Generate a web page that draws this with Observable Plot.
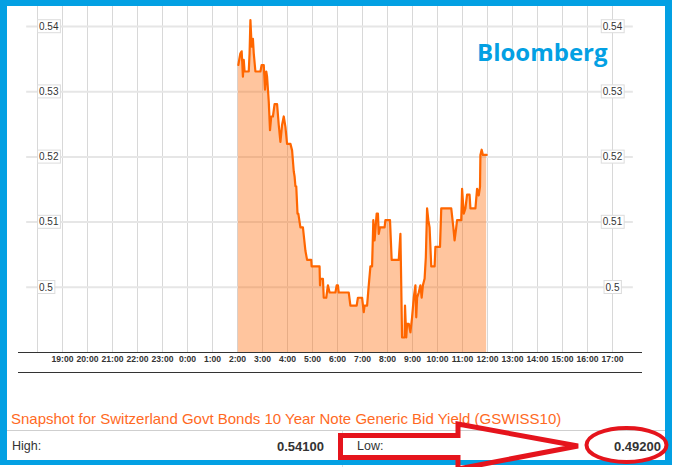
<!DOCTYPE html>
<html>
<head>
<meta charset="utf-8">
<script src="https://cdn.jsdelivr.net/npm/d3@7"></script>
<script src="https://cdn.jsdelivr.net/npm/@observablehq/plot@0.6"></script>
<style>
  html, body { margin: 0; padding: 0; background: #fff; }
  #wrap { position: relative; width: 673px; height: 467px; overflow: hidden; background: #fff; font-family: "Liberation Sans", Arial, sans-serif; }
  #chart { position: absolute; left: 0; top: 0; }
  .abs { position: absolute; white-space: nowrap; line-height: 1; }
  #border { position: absolute; left: 0; top: 0; width: 658px; height: 454px; border-style: solid; border-color: #03a0e3; border-width: 6px 7px 5px 7px; pointer-events: none; }
</style>
</head>
<body>
<div id="wrap">
  <div id="chart"></div>
  <div class="abs" style="left:18px;top:372px;width:624px;height:1px;background:#333;"></div>
  <div class="abs" id="brand" style="left:477px;top:40px;font-family:'Open Sans';font-weight:700;font-size:24px;color:#03a0e3;"></div>
  <div class="abs" id="snap" style="left:11px;top:411px;font-size:15px;color:#ff6a1f;"></div>
  <div class="abs" style="left:7px;top:430px;width:659px;height:1px;background:#cfcfcf;"></div>
  <div class="abs" style="left:342px;top:431px;width:1px;height:40px;background:#dddddd;"></div>
  <div class="abs" id="highLbl" style="left:12px;top:440px;font-size:12.5px;color:#333;"></div>
  <div class="abs" id="highVal" style="right:349px;top:439.5px;font-size:13px;font-weight:bold;color:#333;"></div>
  <div class="abs" id="lowLbl" style="left:357px;top:440px;font-size:12.5px;color:#333;"></div>
  <div class="abs" id="lowVal" style="right:12px;top:439.5px;font-size:13px;font-weight:bold;color:#333;"></div>
  <div id="border"></div>
  <svg class="abs" width="673" height="467" style="left:0;top:0;pointer-events:none;">
    <path d="M340.5,435.5 L458,435.5 L458,424 L578,446 L458,469 L458,457.5 L340.5,457.5 Z" fill="none" stroke="#e5141c" stroke-width="5" stroke-linejoin="miter"/>
    <ellipse cx="626.5" cy="445" rx="40" ry="17" fill="none" stroke="#e5141c" stroke-width="4"/>
  </svg>
</div>
<script>
// ---- data ----
const times = ["2:02","2:05","2:07","2:10","2:13","2:15","2:17","2:27","2:29","2:31","2:34","2:37","2:39","2:43","2:55","2:58","3:03","3:06","3:09","3:11","3:15","3:18","3:21","3:25","3:29","3:35","3:39","3:43","3:47","3:51","3:55","3:59","4:07","4:11","4:15","4:17","4:19","4:21","4:24","4:26","4:31","4:37","4:43","4:47","4:57","4:58","5:17","5:18","5:19","5:25","5:27","5:33","5:37","5:41","5:55","5:58","6:01","6:03","6:27","6:31","6:46","6:49","6:59","7:03","7:05","7:11","7:15","7:19","7:23","7:26","7:29","7:34","7:37","7:39","7:42","7:53","7:55","8:06","8:10","8:27","8:31","8:35","8:41","8:42","8:45","8:47","8:51","8:55","8:59","9:03","9:07","9:09","9:11","9:15","9:19","9:22","9:25","9:29","9:32","9:35","9:38","9:41","9:45","9:53","9:55","10:06","10:09","10:33","10:38","10:41","10:45","10:47","10:57","10:59","11:03","11:07","11:11","11:17","11:19","11:31","11:35","11:39","11:42","11:43","11:46","11:49","11:58"];
const yields = [0.5341,0.5352,0.5359,0.5362,0.5323,0.5349,0.5331,0.5331,0.5359,0.5410,0.5369,0.5381,0.5359,0.5331,0.5331,0.5341,0.5341,0.5303,0.5331,0.5323,0.5285,0.5241,0.5262,0.5262,0.5281,0.5281,0.5249,0.5223,0.5249,0.5262,0.5246,0.5220,0.5220,0.5210,0.5178,0.5170,0.5155,0.5155,0.5113,0.5113,0.5092,0.5092,0.5056,0.5042,0.5042,0.5032,0.5032,0.5003,0.5013,0.5013,0.4984,0.4984,0.5003,0.4992,0.4992,0.5003,0.5003,0.4992,0.4992,0.4972,0.4972,0.4984,0.4984,0.4962,0.4972,0.4972,0.5003,0.5032,0.5032,0.5103,0.5072,0.5113,0.5113,0.5082,0.5092,0.5092,0.5103,0.5103,0.5042,0.5042,0.5082,0.4923,0.4923,0.4972,0.4923,0.4944,0.4944,0.4931,0.4954,0.4984,0.5003,0.4954,0.4984,0.4992,0.5003,0.4984,0.5003,0.5013,0.5046,0.5121,0.5103,0.5092,0.5032,0.5032,0.5062,0.5062,0.5121,0.5121,0.5092,0.5072,0.5092,0.5103,0.5103,0.5151,0.5113,0.5121,0.5142,0.5142,0.5121,0.5121,0.5151,0.5141,0.5154,0.5203,0.5211,0.5203,0.5203];
const hourLabels = ["18:00","19:00","20:00","21:00","22:00","23:00","0:00","1:00","2:00","3:00","4:00","5:00","6:00","7:00","8:00","9:00","10:00","11:00","12:00","13:00","14:00","15:00","16:00","17:00"];
const yTickValues = [0.50, 0.51, 0.52, 0.53, 0.54];
const yTickLabels = ["0.5", "0.51", "0.52", "0.53", "0.54"];
const brandText = "Bloomberg";
const snapshotTitle = "Snapshot for Switzerland Govt Bonds 10 Year Note Generic Bid Yield (GSWISS10)";
const highLabel = "High:", highValue = "0.54100";
const lowLabel = "Low:", lowValue = "0.49200";

// ---- helpers ----
// session starts 18:00 on day 1; hours before 18 fall on day 2
function toDate(str) {
  const [h, m] = str.split(":").map(Number);
  const day = h >= 18 ? 1 : 2;
  return new Date(Date.UTC(2015, 0, day, h, m));
}
const data = times.map((t, i) => ({t: toDate(t), v: yields[i]}));
const hourDates = hourLabels.map(toDate);
const tickDates = hourDates.slice(1);
const yLab = yTickValues.map((v, i) => ({v, label: yTickLabels[i]}));
const firstHour = hourDates[0], lastHour = hourDates[hourDates.length - 1];
const xDomain = [new Date(+firstHour - 45.6 * 60000), new Date(+lastHour + 72 * 60000)];
const gridX1 = new Date(+firstHour - 26 * 60000), gridX2 = new Date(+lastHour + 50 * 60000);
const base = 0.49;

const chart = Plot.plot({
  width: 673,
  height: 380,
  marginLeft: 18,
  marginRight: 31,
  marginTop: 6,
  marginBottom: 28,
  style: {fontFamily: "'Liberation Sans', Arial, sans-serif", background: "transparent", overflow: "visible"},
  x: {type: "utc", domain: xDomain, axis: null},
  y: {domain: [base, 0.54307], axis: null},
  marks: [
    Plot.ruleX(hourDates, {stroke: "#d8d8d8", strokeWidth: 1}),
    Plot.ruleY(yTickValues, {x1: gridX1, x2: gridX2, stroke: "#e6e6e6", strokeWidth: 2}),
    Plot.areaY(data, {x: "t", y1: () => base, y2: "v", fill: "#ff6600", fillOpacity: 0.38}),
    Plot.lineY(data, {x: "t", y: "v", stroke: "#ff6600", strokeWidth: 2.2}),
    Plot.ruleY([base], {stroke: "#333", strokeWidth: 1}),
    Plot.axisX(tickDates, {label: null, tickSize: 0, tickPadding: 3, tickFormat: d3.utcFormat("%-H:%M"), fontWeight: "bold", fontSize: 8.6, fill: "#333"}),
    Plot.text(yLab, {x: () => firstHour, y: "v", text: "label", textAnchor: "start", dx: 1.5, fontSize: 10, fill: "#333"}),
    Plot.text(yLab, {x: () => lastHour, y: "v", text: "label", textAnchor: "middle", fontSize: 10, fill: "#333"})
  ]
});
document.getElementById("chart").appendChild(chart);

// boxes behind the y labels
chart.querySelectorAll('g[aria-label="text"] text').forEach(t => {
  const b = t.getBBox();
  const r = document.createElementNS("http://www.w3.org/2000/svg", "rect");
  r.setAttribute("x", b.x - 1.5);
  r.setAttribute("y", b.y - 1);
  r.setAttribute("width", b.width + 3);
  r.setAttribute("height", b.height + 2);
  r.setAttribute("fill", "#fff");
  r.setAttribute("stroke", "#dcdcdc");
  r.setAttribute("stroke-width", 1);
  if (t.getAttribute("transform")) r.setAttribute("transform", t.getAttribute("transform"));
  t.parentNode.insertBefore(r, t);
});

document.getElementById("brand").textContent = brandText;
document.getElementById("snap").textContent = snapshotTitle;
document.getElementById("highLbl").textContent = highLabel;
document.getElementById("highVal").textContent = highValue;
document.getElementById("lowLbl").textContent = lowLabel;
document.getElementById("lowVal").textContent = lowValue;
</script>
</body>
</html>
